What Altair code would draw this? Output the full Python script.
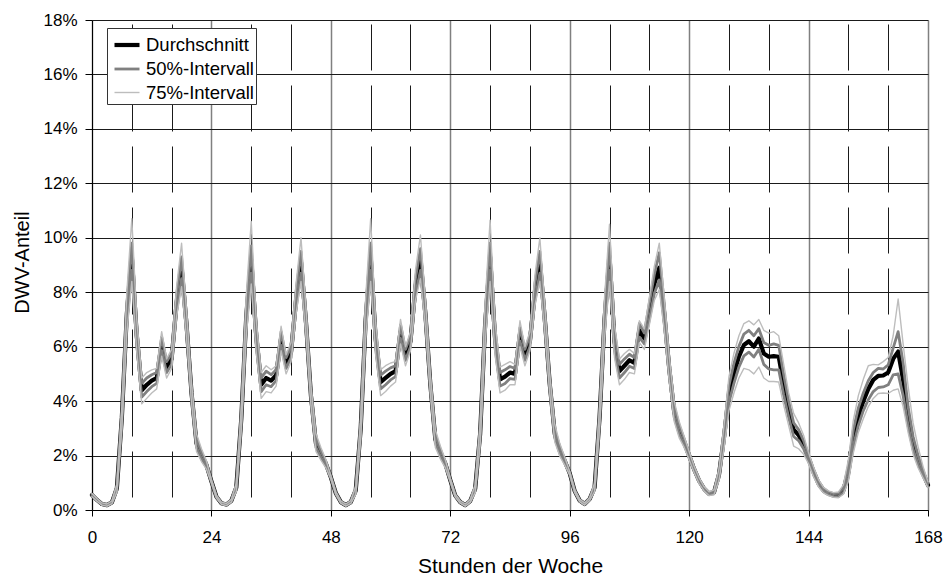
import altair as alt
import pandas as pd

FONT = "Liberation Sans"

hours = list(range(169))

series_names = ["Durchschnitt", "50%-Intervall", "75%-Intervall"]
series_colors = ["#000000", "#808080", "#bdbdbd"]
width_range = [4.2, 1.4]  # point scale ends: 4.2, 2.8, 1.4

mean = [
    0.55, 0.37, 0.22, 0.18, 0.28, 0.80, 3.40, 7.20, 9.30, 6.40, 4.40, 4.60, 4.75, 4.85, 6.10, 5.25, 5.55, 7.60, 8.90, 6.80, 4.30, 2.45, 2.00, 1.65,
    1.05, 0.49, 0.25, 0.20, 0.34, 0.83, 3.35, 7.10, 9.20, 6.40, 4.60, 4.85, 4.75, 4.95, 6.30, 5.40, 5.80, 7.70, 9.10, 6.90, 4.20, 2.45, 2.05, 1.70,
    1.20, 0.62, 0.29, 0.18, 0.29, 0.72, 3.00, 7.00, 9.30, 6.30, 4.70, 4.85, 5.00, 5.10, 6.55, 5.70, 6.20, 8.20, 9.20, 7.20, 4.60, 2.60, 2.10, 1.70,
    1.10, 0.53, 0.29, 0.18, 0.33, 0.78, 2.80, 6.80, 9.30, 6.30, 4.80, 4.90, 5.05, 5.00, 6.45, 5.70, 6.20, 8.00, 9.10, 7.00, 4.60, 2.80, 2.20, 1.80,
    1.35, 0.70, 0.35, 0.22, 0.40, 0.83, 3.40, 7.00, 9.30, 6.20, 5.10, 5.30, 5.50, 5.40, 6.60, 6.30, 7.30, 8.30, 8.90, 7.20, 5.20, 3.60, 2.95, 2.50,
    2.00, 1.50, 1.08, 0.78, 0.60, 0.65, 1.30, 2.67, 4.26, 5.02, 5.63, 6.06, 6.20, 6.00, 6.30, 5.75, 5.63, 5.65, 5.63, 4.60, 3.70, 2.95, 2.75, 2.40,
    1.90, 1.40, 0.98, 0.73, 0.61, 0.55, 0.55, 0.73, 1.40, 2.65, 3.43, 4.00, 4.45, 4.78, 4.93, 4.94, 5.05, 5.55, 5.82, 4.78, 3.43, 2.45, 1.84, 1.35,
    0.92,
]

lo50 = [
    0.52, 0.34, 0.20, 0.16, 0.25, 0.72, 3.20, 6.85, 8.80, 6.05, 4.15, 4.35, 4.53, 4.65, 5.85, 5.05, 5.35, 7.30, 8.50, 6.50, 4.10, 2.30, 1.88, 1.57,
    1.02, 0.46, 0.23, 0.18, 0.31, 0.75, 3.15, 6.75, 8.70, 6.05, 4.35, 4.60, 4.53, 4.75, 6.05, 5.20, 5.60, 7.40, 8.70, 6.60, 4.00, 2.30, 1.93, 1.62,
    1.17, 0.59, 0.27, 0.16, 0.26, 0.64, 2.80, 6.65, 8.80, 5.95, 4.45, 4.60, 4.78, 4.90, 6.30, 5.50, 6.00, 7.90, 8.80, 6.90, 4.40, 2.45, 1.98, 1.62,
    1.07, 0.50, 0.27, 0.16, 0.30, 0.70, 2.60, 6.45, 8.80, 5.95, 4.55, 4.65, 4.83, 4.80, 6.20, 5.50, 6.00, 7.70, 8.70, 6.70, 4.40, 2.65, 2.08, 1.72,
    1.32, 0.67, 0.33, 0.20, 0.37, 0.75, 3.20, 6.65, 8.80, 5.85, 4.85, 5.05, 5.28, 5.20, 6.35, 6.10, 7.00, 7.95, 8.45, 6.85, 4.95, 3.40, 2.80, 2.38,
    1.92, 1.43, 1.02, 0.73, 0.56, 0.60, 1.18, 2.45, 3.95, 4.65, 5.25, 5.66, 5.80, 5.62, 5.90, 5.35, 5.18, 5.15, 5.15, 4.22, 3.40, 2.70, 2.55, 2.25,
    1.78, 1.30, 0.90, 0.67, 0.56, 0.50, 0.49, 0.64, 1.20, 2.35, 3.10, 3.65, 4.05, 4.35, 4.50, 4.52, 4.60, 4.96, 5.00, 4.20, 3.10, 2.22, 1.68, 1.25,
    0.86,
]

hi50 = [
    0.58, 0.40, 0.24, 0.20, 0.31, 0.88, 3.60, 7.55, 9.80, 6.75, 4.65, 4.85, 4.97, 5.05, 6.35, 5.45, 5.75, 7.90, 9.30, 7.10, 4.50, 2.60, 2.12, 1.73,
    1.08, 0.52, 0.27, 0.22, 0.37, 0.91, 3.55, 7.45, 9.70, 6.75, 4.85, 5.10, 4.97, 5.15, 6.55, 5.60, 6.00, 8.00, 9.50, 7.20, 4.40, 2.60, 2.17, 1.78,
    1.23, 0.65, 0.31, 0.20, 0.32, 0.80, 3.20, 7.35, 9.80, 6.65, 4.95, 5.10, 5.22, 5.30, 6.80, 5.90, 6.40, 8.50, 9.60, 7.50, 4.80, 2.75, 2.22, 1.78,
    1.13, 0.56, 0.31, 0.20, 0.36, 0.86, 3.00, 7.15, 9.80, 6.65, 5.05, 5.15, 5.27, 5.20, 6.70, 5.90, 6.40, 8.30, 9.50, 7.30, 4.80, 2.95, 2.32, 1.88,
    1.38, 0.73, 0.37, 0.24, 0.43, 0.91, 3.60, 7.35, 9.80, 6.55, 5.35, 5.55, 5.72, 5.60, 6.85, 6.50, 7.60, 8.65, 9.45, 7.55, 5.45, 3.80, 3.10, 2.62,
    2.08, 1.57, 1.14, 0.83, 0.64, 0.70, 1.42, 2.89, 4.57, 5.39, 6.01, 6.46, 6.60, 6.40, 6.66, 6.15, 6.05, 6.10, 6.05, 4.98, 4.00, 3.20, 2.95, 2.55,
    2.02, 1.50, 1.06, 0.79, 0.66, 0.60, 0.61, 0.82, 1.60, 2.95, 3.75, 4.30, 4.75, 5.05, 5.20, 5.18, 5.33, 5.95, 6.55, 5.40, 3.80, 2.70, 2.00, 1.45,
    0.98,
]

lo75 = [
    0.49, 0.32, 0.18, 0.14, 0.23, 0.65, 3.00, 6.50, 8.40, 5.80, 3.90, 4.10, 4.30, 4.45, 5.65, 4.85, 5.20, 7.10, 8.20, 6.30, 3.95, 2.15, 1.78, 1.50,
    0.99, 0.44, 0.21, 0.16, 0.29, 0.68, 2.95, 6.40, 8.30, 5.80, 4.10, 4.35, 4.30, 4.55, 5.85, 5.00, 5.45, 7.20, 8.40, 6.40, 3.85, 2.15, 1.83, 1.55,
    1.14, 0.57, 0.25, 0.14, 0.24, 0.57, 2.60, 6.30, 8.40, 5.70, 4.20, 4.35, 4.55, 4.70, 6.10, 5.30, 5.85, 7.70, 8.50, 6.70, 4.25, 2.30, 1.88, 1.55,
    1.04, 0.48, 0.25, 0.14, 0.28, 0.63, 2.40, 6.10, 8.40, 5.70, 4.30, 4.40, 4.60, 4.60, 6.00, 5.30, 5.85, 7.50, 8.40, 6.50, 4.25, 2.50, 1.98, 1.65,
    1.29, 0.65, 0.31, 0.18, 0.35, 0.68, 3.00, 6.30, 8.40, 5.60, 4.60, 4.80, 5.05, 5.00, 6.15, 5.90, 6.80, 7.70, 8.10, 6.60, 4.75, 3.25, 2.65, 2.30,
    1.85, 1.38, 0.97, 0.70, 0.53, 0.56, 1.08, 2.25, 3.65, 4.30, 4.85, 5.20, 5.15, 5.00, 5.25, 4.85, 4.72, 4.72, 4.70, 3.85, 3.10, 2.35, 2.25, 2.05,
    1.70, 1.22, 0.85, 0.63, 0.53, 0.47, 0.45, 0.58, 1.05, 2.10, 2.85, 3.35, 3.80, 4.10, 4.28, 4.30, 4.28, 4.40, 4.45, 3.80, 2.85, 2.05, 1.55, 1.18,
    0.82,
]

hi75 = [
    0.61, 0.42, 0.26, 0.22, 0.33, 0.95, 3.80, 8.00, 10.70, 7.00, 4.85, 5.05, 5.15, 5.20, 6.55, 5.55, 5.90, 8.20, 9.80, 7.30, 4.65, 2.80, 2.25, 1.80,
    1.11, 0.54, 0.29, 0.24, 0.39, 0.98, 3.75, 7.90, 10.60, 7.00, 5.05, 5.30, 5.15, 5.30, 6.75, 5.70, 6.15, 8.30, 10.00, 7.40, 4.55, 2.80, 2.30, 1.85,
    1.26, 0.67, 0.33, 0.22, 0.34, 0.87, 3.40, 7.80, 10.70, 6.90, 5.15, 5.30, 5.40, 5.45, 7.00, 6.00, 6.55, 8.80, 10.10, 7.70, 4.95, 2.95, 2.35, 1.85,
    1.16, 0.58, 0.33, 0.22, 0.38, 0.93, 3.20, 7.60, 10.65, 6.90, 5.25, 5.35, 5.45, 5.35, 6.95, 6.00, 6.55, 8.60, 10.00, 7.50, 4.95, 3.15, 2.45, 1.95,
    1.41, 0.75, 0.39, 0.26, 0.45, 0.98, 3.80, 7.80, 10.50, 6.80, 5.55, 5.75, 5.90, 5.75, 6.95, 6.65, 7.80, 8.95, 9.80, 7.80, 5.65, 4.00, 3.25, 2.70,
    2.15, 1.62, 1.19, 0.86, 0.67, 0.74, 1.52, 3.10, 4.90, 5.75, 6.40, 6.85, 6.95, 6.80, 7.00, 6.60, 6.50, 6.55, 6.40, 5.35, 4.30, 3.55, 3.20, 2.75,
    2.10, 1.58, 1.12, 0.83, 0.70, 0.64, 0.66, 0.92, 1.85, 3.30, 4.20, 4.80, 5.30, 5.35, 5.33, 5.45, 5.60, 6.40, 7.75, 6.10, 4.55, 3.20, 2.33, 1.60,
    1.04,
]

x_ticks = list(range(0, 169, 8))
y_ticks = list(range(0, 19, 2))

rows = []
for name, line_id, vals in [
    (series_names[0], "mittel", mean),
    (series_names[1], "p25", lo50),
    (series_names[1], "p75", hi50),
    (series_names[2], "p12", lo75),
    (series_names[2], "p88", hi75),
]:
    for h, v in zip(hours, vals):
        rows.append({"Stunde": h, "Anteil": v, "Reihe": name, "Linie": line_id})
df = pd.DataFrame(rows)

is_day = "datum.value % 24 === 0"

x_axis = alt.Axis(
    values=x_ticks,
    labelExpr=f"{is_day} ? datum.label : ''",
    labelFlush=False,
    labelOverlap=False,
    labelFont=FONT,
    labelFontSize=17,
    labelColor="#000000",
    labelPadding=13,
    tickSize=6,
    tickColor="#000000",
    tickOpacity={"condition": {"test": is_day, "value": 1}, "value": 0},
    domainColor="#000000",
    domainWidth=1,
    grid=True,
    gridColor={"condition": {"test": is_day, "value": "#808080"}, "value": "#1a1a1a"},
    gridWidth={"condition": {"test": is_day, "value": 1.5}, "value": 1},
    gridDash={"condition": {"test": is_day, "value": [1, 0]}, "value": [46, 15]},
    gridDashOffset=57,
    title="Stunden der Woche",
    titleFont=FONT,
    titleFontSize=21,
    titleFontWeight="normal",
    titleColor="#000000",
    titleBaseline="alphabetic",
    titleY=62,
)

y_axis = alt.Axis(
    values=y_ticks,
    labelExpr="datum.value + '%'",
    labelFont=FONT,
    labelFontSize=17,
    labelColor="#000000",
    labelPadding=8,
    tickSize=7,
    tickColor="#000000",
    domainColor="#000000",
    domainWidth=1,
    grid=True,
    gridColor="#1a1a1a",
    gridWidth=1,
    title="DWV-Anteil",
    titleFont=FONT,
    titleFontSize=20,
    titleFontWeight="normal",
    titleColor="#000000",
    titleAngle=270,
    titleAlign="center",
    titleBaseline="alphabetic",
    titleX=-64,
    titleY=242,
)

legend = alt.Legend(
    title=None,
    orient="none",
    legendX=15,
    legendY=8,
    direction="vertical",
    symbolType="stroke",
    symbolSize=625,
    symbolOffset=3,
    labelFont=FONT,
    labelFontSize=18.5,
    labelColor="#000000",
    labelOffset=4,
    labelLimit=300,
    rowPadding=0,
    padding=2,
    fillColor="#ffffff",
    strokeColor="#333333",
    cornerRadius=0,
)

color_enc = alt.Color(
    "Reihe:N",
    scale=alt.Scale(domain=series_names, range=series_colors),
    legend=legend,
    sort=series_names,
)
width_enc = alt.StrokeWidth(
    "Reihe:N",
    scale=alt.Scale(type="point", domain=series_names, range=width_range, padding=0),
    legend=legend,
    sort=series_names,
)

x_enc = alt.X("Stunde:Q", scale=alt.Scale(domain=[0, 168], nice=False, zero=False), axis=x_axis)
y_enc = alt.Y("Anteil:Q", scale=alt.Scale(domain=[0, 18], nice=False), axis=y_axis)

base = alt.Chart(df).mark_line(strokeJoin="round", strokeCap="round", interpolate="linear").encode(
    x=x_enc,
    y=y_enc,
    color=color_enc,
    strokeWidth=width_enc,
    detail="Linie:N",
)

layer_mean = base.transform_filter(alt.datum.Reihe == series_names[0])
layer_50 = base.transform_filter(alt.datum.Reihe == series_names[1])
layer_75 = base.transform_filter(alt.datum.Reihe == series_names[2])

chart = (
    alt.layer(layer_mean, layer_50, layer_75)
    .properties(
        width=836,
        height=490,
        autosize=alt.AutoSizeParams(type="none"),
        padding={"left": 92, "top": 20, "right": 18, "bottom": 69},
        background="#ffffff",
    )
    .configure_view(stroke=None)
)

chart.save("out.html", embed_options={"renderer": "svg", "actions": False})
